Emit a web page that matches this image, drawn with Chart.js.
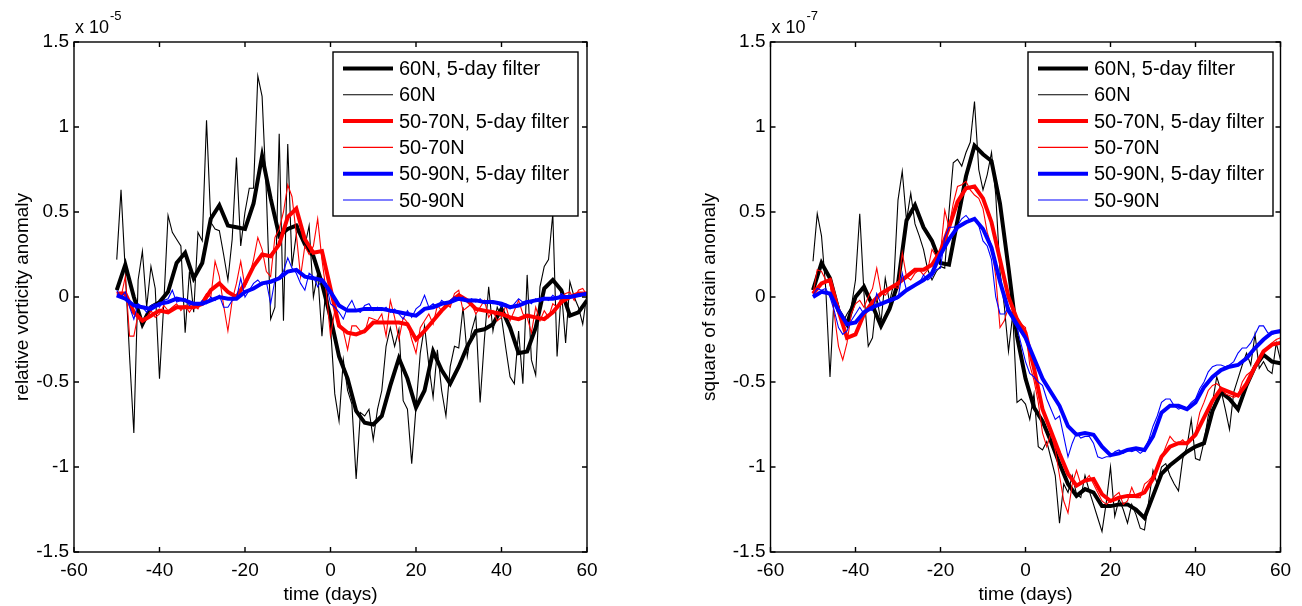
<!DOCTYPE html>
<html>
<head>
<meta charset="utf-8">
<script src="https://cdn.jsdelivr.net/npm/chart.js@4"></script>
<style>
    html, body { margin: 0; padding: 0; background: #fff; }
    #wrap { position: relative; width: 1302px; height: 606px; }
    .panel { position: absolute; top: 0; width: 651px; height: 606px; }
</style>
</head>
<body>
<div id="wrap">
    <div class="panel" style="left:0"><canvas id="vortChart" width="651" height="606"></canvas></div>
    <div class="panel" style="left:651px"><canvas id="strainChart" width="651" height="606"></canvas></div>
</div>
<script>
// legend entries, same order for both panels
const legendLabels = ["60N, 5-day filter", "60N", "50-70N, 5-day filter", "50-70N", "50-90N, 5-day filter", "50-90N"];
const seriesColors = ["#000000", "#000000", "#ff0000", "#ff0000", "#0000ff", "#0000ff"];
const seriesWidths = [4, 1.1, 4, 1.1, 4, 1.1];

const xTicks = [-60, -40, -20, 0, 20, 40, 60];
const yTicks = [-1.5, -1, -0.5, 0, 0.5, 1, 1.5];

// daily values from day -50 to 60, filtered curves read every 2 days
const daysDaily = Array.from({ length: 111 }, (_, i) => i - 50);
const daysFiltered = Array.from({ length: 56 }, (_, i) => -50 + 2 * i);

// ---- left panel: relative vorticity anomaly (x 1e-5) ----
const vort60Filt = [
    0.04, 0.19, 0.00, -0.16, -0.06, -0.03, 0.03, 0.20, 0.26, 0.11,
    0.20, 0.46, 0.54, 0.42, 0.41, 0.40, 0.55, 0.83, 0.58, 0.36,
    0.40, 0.42, 0.31, 0.24, 0.08, -0.12, -0.35, -0.48, -0.67, -0.74,
    -0.75, -0.70, -0.52, -0.36, -0.48, -0.65, -0.55, -0.32, -0.43, -0.51,
    -0.41, -0.29, -0.20, -0.19, -0.16, -0.07, -0.18, -0.33, -0.32, -0.18,
    0.05, 0.10, 0.04, -0.11, -0.09, -0.02];
const vort60 = [
    0.22, 0.63, 0.15, -0.35, -0.80, 0.10, 0.27, -0.06, 0.18, 0.05,
    -0.48, -0.04, 0.48, 0.38, 0.34, 0.30, -0.21, 0.15, -0.09, 0.38,
    0.33, 1.04, 0.44, 0.40, 0.39, 0.25, 0.10, 0.34, 0.82, 0.30,
    0.50, 0.64, 0.64, 1.30, 1.18, 0.61, -0.13, -0.06, 0.96, -0.14,
    0.90, 0.18, 0.37, 0.45, 0.30, 0.42, 0.00, 0.14, -0.23, 0.08,
    -0.17, -0.57, -0.73, -0.37, -0.55, -0.63, -1.07, -0.68, -0.70, -0.66,
    -0.84, -0.66, -0.55, -0.29, -0.18, -0.29, -0.19, -0.61, -0.66, -0.98,
    -0.65, -0.33, -0.17, -0.40, -0.59, -0.31, -0.55, -0.70, -0.41, -0.29,
    -0.30, -0.06, -0.35, -0.20, -0.11, -0.62, -0.25, 0.06, -0.20, -0.06,
    -0.12, -0.30, -0.47, -0.51, -0.20, -0.51, 0.13, -0.37, -0.46, 0.06,
    0.18, 0.22, 0.49, -0.35, 0.04, -0.27, 0.09, 0.00, -0.06, -0.16,
    0.02];
const vort5070Filt = [
    0.02, 0.02, -0.09, -0.14, -0.11, -0.08, -0.09, -0.06, -0.06, -0.06,
    -0.04, 0.04, 0.08, 0.03, 0.00, 0.08, 0.18, 0.25, 0.24, 0.31,
    0.47, 0.52, 0.34, 0.26, 0.27, 0.05, -0.17, -0.21, -0.22, -0.20,
    -0.15, -0.15, -0.15, -0.15, -0.16, -0.25, -0.20, -0.14, -0.08, -0.03,
    0.01, -0.02, -0.07, -0.08, -0.09, -0.10, -0.12, -0.13, -0.11, -0.12,
    -0.13, -0.09, -0.03, 0.00, 0.02, 0.02];
const vort5070 = [
    0.03, 0.00, 0.12, -0.23, -0.23, -0.10, -0.14, -0.12, -0.08, -0.12,
    -0.10, -0.05, -0.08, -0.06, -0.04, -0.08, -0.05, -0.09, -0.05, -0.07,
    -0.02, 0.02, 0.00, 0.21, 0.12, -0.05, -0.20, -0.02, 0.08, 0.21,
    0.06, 0.12, 0.22, 0.35, 0.28, 0.15, 0.12, 0.35, 0.40, 0.50,
    0.66, 0.59, 0.37, 0.12, 0.30, 0.25, 0.30, 0.46, 0.22, 0.03,
    -0.23, -0.08, -0.15, -0.20, -0.31, -0.17, -0.17, -0.20, -0.21, -0.12,
    -0.13, -0.14, -0.10, -0.23, -0.02, -0.12, -0.25, -0.12, -0.15, -0.25,
    -0.33, -0.18, -0.14, -0.10, -0.16, -0.05, -0.08, -0.04, -0.06, 0.02,
    0.04, -0.08, -0.06, -0.04, -0.10, -0.06, -0.02, -0.12, -0.08, -0.14,
    -0.12, -0.05, -0.14, -0.08, -0.02, -0.10, -0.12, -0.21, -0.06, -0.14,
    -0.08, -0.12, -0.04, -0.06, 0.00, 0.02, 0.03, -0.02, 0.04, 0.05,
    0.01];
const vort5090Filt = [
    0.01, -0.01, -0.05, -0.06, -0.07, -0.04, -0.03, -0.01, -0.02, -0.04,
    -0.04, -0.02, 0.00, -0.01, -0.01, 0.03, 0.05, 0.08, 0.09, 0.11,
    0.15, 0.16, 0.12, 0.11, 0.10, 0.03, -0.05, -0.08, -0.08, -0.07,
    -0.07, -0.07, -0.08, -0.09, -0.10, -0.11, -0.07, -0.06, -0.04, -0.03,
    -0.01, -0.02, -0.02, -0.03, -0.03, -0.04, -0.06, -0.05, -0.03, -0.02,
    -0.01, -0.01, 0.00, 0.00, 0.01, 0.02];
const vort5090 = [
    0.04, 0.00, 0.03, -0.06, -0.13, -0.04, -0.06, -0.09, -0.05, -0.04,
    -0.06, -0.02, -0.01, 0.04, -0.03, -0.02, -0.01, -0.05, -0.03, -0.05,
    -0.02, -0.04, 0.00, -0.02, 0.01, -0.06, -0.06, -0.02, -0.01, 0.11,
    0.00, 0.04, 0.08, 0.10, 0.07, 0.09, -0.04, 0.10, 0.12, 0.15,
    0.23, 0.17, 0.14, 0.08, 0.04, 0.14, 0.12, 0.06, 0.10, 0.08,
    -0.04, -0.06, -0.09, -0.13, -0.06, -0.02, -0.08, -0.09, -0.05, -0.04,
    -0.08, -0.06, -0.08, -0.06, -0.09, -0.07, -0.10, -0.13, -0.08, -0.12,
    -0.07, -0.05, 0.01, -0.06, -0.04, -0.06, -0.02, -0.04, -0.02, 0.00,
    -0.01, 0.00, -0.03, -0.01, -0.03, -0.01, -0.04, -0.02, -0.04, -0.03,
    -0.06, -0.04, -0.07, -0.04, -0.01, -0.03, -0.02, -0.04, -0.01, -0.03,
    0.00, -0.02, 0.01, -0.01, 0.02, 0.00, 0.01, 0.00, 0.02, 0.01,
    0.02];

// ---- right panel: square of strain anomaly (x 1e-7) ----
const strain60Filt = [
    0.04, 0.20, 0.11, -0.08, -0.16, 0.00, 0.06, -0.05, -0.17, -0.07,
    0.08, 0.45, 0.54, 0.41, 0.33, 0.20, 0.19, 0.45, 0.71, 0.89,
    0.84, 0.80, 0.55, 0.17, -0.23, -0.48, -0.65, -0.73, -0.85, -0.98,
    -1.10, -1.17, -1.13, -1.15, -1.23, -1.23, -1.22, -1.22, -1.25, -1.30,
    -1.17, -1.04, -0.99, -0.95, -0.91, -0.88, -0.86, -0.67, -0.56, -0.60,
    -0.66, -0.52, -0.41, -0.34, -0.38, -0.39];
const strain60 = [
    0.21, 0.49, 0.36, 0.05, -0.47, 0.02, -0.05, -0.15, -0.10, -0.06,
    0.10, 0.49, 0.02, -0.29, -0.24, 0.00, -0.15, 0.11, -0.03, 0.08,
    0.57, 0.74, 0.45, 0.61, 0.43, 0.36, 0.28, 0.16, 0.10, 0.15,
    0.18, 0.17, 0.50, 0.79, 0.81, 0.77, 0.85, 0.91, 1.15, 0.75,
    0.63, 0.72, 0.85, 0.60, 0.15, -0.05, -0.32, -0.10, -0.62, -0.60,
    -0.63, -0.72, -0.57, -0.88, -0.90, -0.85, -0.95, -1.05, -1.33, -1.10,
    -1.15, -1.05, -1.16, -1.18, -1.05, -1.14, -1.22, -1.30, -1.38, -1.21,
    -1.00, -1.29, -1.19, -1.25, -1.33, -1.22, -1.28, -1.36, -1.37, -1.20,
    -1.02, -1.10, -1.00, -0.98, -1.05, -1.10, -1.14, -0.95, -0.88, -0.72,
    -0.95, -0.96, -0.85, -0.70, -0.62, -0.47, -0.55, -0.66, -0.78, -0.56,
    -0.48, -0.40, -0.33, -0.40, -0.22, -0.42, -0.38, -0.43, -0.45, -0.27,
    -0.37];
const strain5070Filt = [
    0.02, 0.08, 0.10, -0.08, -0.24, -0.22, -0.10, -0.03, 0.02, 0.05,
    0.08, 0.12, 0.16, 0.16, 0.19, 0.27, 0.41, 0.56, 0.64, 0.65,
    0.58, 0.44, 0.22, 0.00, -0.13, -0.21, -0.42, -0.66, -0.79, -0.92,
    -1.04, -1.11, -1.08, -1.07, -1.16, -1.20, -1.18, -1.17, -1.17, -1.15,
    -1.07, -0.94, -0.88, -0.86, -0.86, -0.81, -0.71, -0.61, -0.54, -0.56,
    -0.58, -0.51, -0.41, -0.32, -0.28, -0.27];
const strain5070 = [
    0.02, 0.16, 0.15, 0.10, 0.08, -0.10, -0.29, -0.37, -0.27, -0.10,
    -0.04, -0.02, -0.06, 0.00, 0.05, 0.17, 0.03, 0.01, 0.04, 0.06,
    0.05, 0.26, 0.12, 0.10, 0.14, 0.16, 0.13, 0.16, 0.28, 0.24,
    0.26, 0.51, 0.41, 0.55, 0.65, 0.66, 0.68, 0.63, 0.60, 0.58,
    0.52, 0.38, 0.30, 0.12, -0.18, -0.14, -0.06, -0.10, -0.12, -0.16,
    -0.18, -0.40, -0.49, -0.62, -0.80, -0.88, -0.80, -0.90, -1.05, -1.20,
    -1.27, -1.10, -1.02, -1.10, -1.08, -1.05, -1.10, -1.15, -1.20, -1.22,
    -1.20, -1.17, -1.15, -1.22, -1.20, -1.12, -1.18, -1.18, -1.10, -1.08,
    -1.05, -1.02, -0.95, -0.88, -0.82, -0.85, -0.86, -0.84, -0.87, -0.84,
    -0.80, -0.68, -0.62, -0.55, -0.52, -0.51, -0.53, -0.57, -0.58, -0.59,
    -0.58, -0.50, -0.46, -0.44, -0.40, -0.36, -0.33, -0.30, -0.27, -0.25,
    -0.24];
const strain5090Filt = [
    0.00, 0.03, 0.02, -0.08, -0.16, -0.15, -0.09, -0.06, -0.04, -0.02,
    0.00, 0.04, 0.07, 0.10, 0.14, 0.25, 0.34, 0.41, 0.44, 0.46,
    0.40, 0.29, 0.09, -0.08, -0.16, -0.24, -0.36, -0.48, -0.56, -0.64,
    -0.76, -0.81, -0.80, -0.81, -0.88, -0.93, -0.92, -0.90, -0.89, -0.90,
    -0.82, -0.68, -0.64, -0.64, -0.66, -0.62, -0.53, -0.47, -0.43, -0.41,
    -0.40, -0.36, -0.30, -0.25, -0.21, -0.20];
const strain5090 = [
    0.01, 0.05, 0.04, 0.05, 0.00, -0.08, -0.18, -0.22, -0.20, -0.14,
    -0.10, -0.06, -0.10, -0.07, -0.08, 0.02, -0.04, -0.03, -0.03, -0.02,
    -0.01, 0.14, 0.04, 0.05, 0.07, 0.08, 0.13, 0.10, 0.12, 0.16,
    0.17, 0.35, 0.41, 0.41, 0.42, 0.46, 0.48, 0.45, 0.46, 0.42,
    0.33, 0.30, 0.22, 0.00, -0.10, -0.10, -0.06, -0.14, -0.18, -0.28,
    -0.38, -0.45, -0.47, -0.50, -0.52, -0.60, -0.66, -0.72, -0.70, -0.82,
    -0.94, -0.86, -0.80, -0.83, -0.82, -0.82, -0.86, -0.94, -0.95, -0.94,
    -0.94, -0.91, -0.90, -0.92, -0.90, -0.91, -0.90, -0.92, -0.90, -0.84,
    -0.76, -0.70, -0.62, -0.60, -0.60, -0.64, -0.66, -0.65, -0.65, -0.62,
    -0.60, -0.54, -0.50, -0.44, -0.41, -0.40, -0.40, -0.41, -0.40, -0.38,
    -0.33, -0.30, -0.30, -0.27, -0.22, -0.17, -0.17, -0.21, -0.22, -0.21,
    -0.21];

const fontFamily = "'Liberation Sans', Arial, Helvetica, sans-serif";

// Box around the axes, inward ticks, exponent label and legend (matlab look)
const matlabBox = {
    id: "matlabBox",
    afterDraw(chart, args, opts) {
        const { ctx, chartArea: a, scales } = chart;
        const tick = 5;
        ctx.save();
        ctx.strokeStyle = "#000";
        ctx.lineWidth = 1.4;
        ctx.strokeRect(a.left, a.top, a.right - a.left, a.bottom - a.top);
        ctx.beginPath();
        xTicks.forEach(v => {
            const px = scales.x.getPixelForValue(v);
            ctx.moveTo(px, a.bottom); ctx.lineTo(px, a.bottom - tick);
            ctx.moveTo(px, a.top); ctx.lineTo(px, a.top + tick);
        });
        yTicks.forEach(v => {
            const py = scales.y.getPixelForValue(v);
            ctx.moveTo(a.left, py); ctx.lineTo(a.left + tick, py);
            ctx.moveTo(a.right, py); ctx.lineTo(a.right - tick, py);
        });
        ctx.stroke();

        // exponent
        ctx.fillStyle = "#000";
        ctx.textBaseline = "alphabetic";
        ctx.font = "18px " + fontFamily;
        ctx.fillText("x 10", a.left + 1, a.top - 9);
        const w = ctx.measureText("x 10").width;
        ctx.font = "13px " + fontFamily;
        ctx.fillText(opts.exponent, a.left + w + 2, a.top - 22);

        // legend box
        const lx = opts.legendX, ly = 52, lw = 245, lh = 164;
        ctx.fillStyle = "#fff";
        ctx.fillRect(lx, ly, lw, lh);
        ctx.lineWidth = 1.4;
        ctx.strokeRect(lx, ly, lw, lh);
        ctx.font = "20px " + fontFamily;
        ctx.textBaseline = "middle";
        legendLabels.forEach((label, i) => {
            const ry = ly + 16.5 + i * 26.3;
            ctx.beginPath();
            ctx.strokeStyle = seriesColors[i];
            ctx.lineWidth = seriesWidths[i];
            ctx.moveTo(lx + 10, ry);
            ctx.lineTo(lx + 60, ry);
            ctx.stroke();
            ctx.fillStyle = "#000";
            ctx.fillText(label, lx + 66, ry + 1);
        });
        ctx.restore();
    }
};

function toPoints(days, vals) {
    return vals.map((v, i) => ({ x: days[i], y: v }));
}

function makeChart(canvasId, series, cfg) {
    const datasets = series.map((vals, i) => ({
        label: legendLabels[i],
        data: toPoints(i % 2 === 0 ? daysFiltered : daysDaily, vals),
        borderColor: seriesColors[i],
        borderWidth: seriesWidths[i],
        pointRadius: 0,
        fill: false,
        tension: 0,
        order: 6 - i
    }));

    return new Chart(document.getElementById(canvasId), {
        type: "line",
        data: { datasets: datasets },
        options: {
            responsive: false,
            animation: false,
            events: [],
            layout: { padding: { left: cfg.padLeft, right: cfg.padRight, top: 42, bottom: 0 } },
            plugins: {
                legend: { display: false },
                tooltip: { enabled: false },
                matlabBox: { exponent: cfg.exponent, legendX: cfg.legendX }
            },
            scales: {
                x: {
                    type: "linear",
                    min: -60,
                    max: 60,
                    afterBuildTicks: s => { s.ticks = xTicks.map(v => ({ value: v })); },
                    afterFit: s => { s.height = 54; },
                    grid: { display: false, tickLength: 0 },
                    border: { display: false },
                    ticks: { padding: 7, color: "#000", font: { family: fontFamily, size: 19 }, maxRotation: 0 },
                    title: { display: true, text: "time (days)", color: "#000", padding: 0, font: { family: fontFamily, size: 19 } }
                },
                y: {
                    type: "linear",
                    min: -1.5,
                    max: 1.5,
                    afterBuildTicks: s => { s.ticks = yTicks.map(v => ({ value: v })); },
                    afterFit: s => { s.width = cfg.plotLeft - cfg.padLeft; },
                    grid: { display: false, tickLength: 0 },
                    border: { display: false },
                    ticks: { padding: 5, color: "#000", font: { family: fontFamily, size: 19 }, callback: v => String(v) },
                    title: { display: true, text: cfg.yTitle, color: "#000", padding: 0, font: { family: fontFamily, size: 19 } }
                }
            }
        },
        plugins: [matlabBox]
    });
}

makeChart("vortChart",
    [vort60Filt, vort60, vort5070Filt, vort5070, vort5090Filt, vort5090],
    { padLeft: 11, padRight: 64, plotLeft: 74, exponent: "-5", legendX: 333, yTitle: "relative vorticity anomaly" });

makeChart("strainChart",
    [strain60Filt, strain60, strain5070Filt, strain5070, strain5090Filt, strain5090],
    { padLeft: 47, padRight: 21.5, plotLeft: 119.5, exponent: "-7", legendX: 377, yTitle: "square of strain anomaly" });
</script>
</body>
</html>
